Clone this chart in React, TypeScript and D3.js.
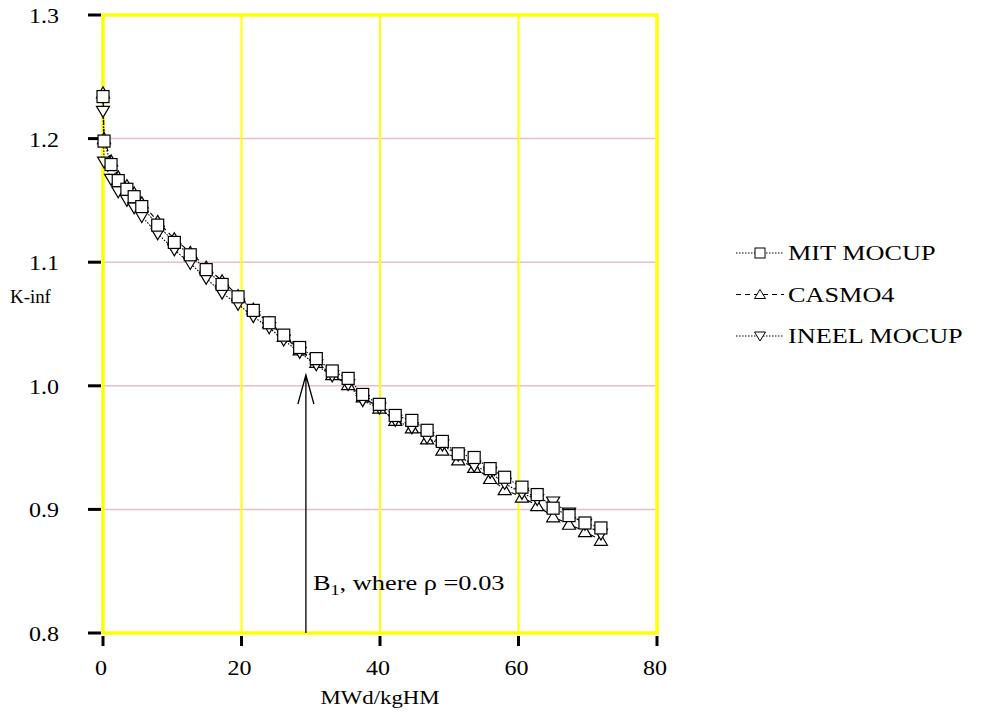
import { useEffect, useRef } from 'react';
import * as d3 from 'd3';

// burnup steps (MWd/kgHM)
const burnup = [0, 0.15, 1.16, 2.2, 3.45, 4.5, 5.6, 7.9, 10.3, 12.6, 14.9, 17.2, 19.5, 21.7, 24.0, 26.1, 28.4, 30.8, 33.1, 35.4, 37.5, 39.9, 42.2, 44.6, 46.8, 49.0, 51.3, 53.6, 55.9, 58.0, 60.5, 62.7, 65.0, 67.3, 69.6, 71.9];

const mitMocup = [1.234, 1.198, 1.179, 1.166, 1.159, 1.153, 1.145, 1.130, 1.116, 1.106, 1.094, 1.082, 1.072, 1.061, 1.051, 1.041, 1.031, 1.022, 1.012, 1.006, 0.993, 0.985, 0.976, 0.972, 0.964, 0.955, 0.945, 0.942, 0.933, 0.926, 0.918, 0.912, 0.901, 0.895, 0.889, 0.885];

const casmo4 = [1.237, 1.200, 1.182, 1.169, 1.162, 1.156, 1.148, 1.133, 1.119, 1.108, 1.096, 1.085, 1.073, 1.062, 1.051, 1.040, 1.029, 1.019, 1.009, 1.001, 0.991, 0.982, 0.972, 0.966, 0.957, 0.948, 0.940, 0.934, 0.925, 0.916, 0.910, 0.903, 0.894, 0.888, 0.882, 0.875];

const ineelMocup = [1.222, 1.181, 1.167, 1.157, 1.150, 1.144, 1.137, 1.123, 1.110, 1.099, 1.087, 1.075, 1.066, 1.056, 1.047, 1.037, 1.027, 1.017, 1.008, 1.001, 0.988, 0.982, 0.972, 0.966, 0.958, 0.952, 0.944, 0.935, 0.930, 0.921, 0.913, 0.908, 0.906, 0.897, 0.888, 0.880];

const xTicks = [0, 20, 40, 60, 80];
const yTicks = [0.8, 0.9, 1.0, 1.1, 1.2, 1.3];

const markerB1 = 29.3;

const App = () => {
  const svgRef = useRef<SVGSVGElement>(null);

  useEffect(() => {
    const svg = d3.select(svgRef.current);
    svg.selectAll('*').remove();

    const font = '"Liberation Serif", "Times New Roman", serif';
    const left = 103, right = 657, top = 15, bottom = 633;
    const stretch = 1.2; // the original text is a bit wide

    const x = d3.scaleLinear().domain([0, 80]).range([left, right]);
    const y = d3.scaleLinear().domain([0.8, 1.3]).range([bottom, top]);

    const label = (px: number, py: number, size: number, anchor: string, sx = stretch) =>
      svg.append('text')
        .attr('transform', `translate(${px},${py}) scale(${sx},1)`)
        .attr('dy', '0.35em')
        .attr('text-anchor', anchor)
        .attr('font-family', font)
        .attr('font-size', size);

    // horizontal grid (pink)
    svg.append('g')
      .selectAll('line')
      .data(yTicks.slice(1, -1))
      .join('line')
      .attr('x1', left).attr('x2', right)
      .attr('y1', d => y(d)).attr('y2', d => y(d))
      .attr('stroke', '#e2bfd2')
      .attr('stroke-width', 1.5);

    // vertical grid (yellow)
    svg.append('g')
      .selectAll('line')
      .data(xTicks.slice(1, -1))
      .join('line')
      .attr('x1', d => x(d)).attr('x2', d => x(d))
      .attr('y1', top).attr('y2', bottom)
      .attr('stroke', '#ffff00')
      .attr('stroke-width', 2);

    // frame
    svg.append('rect')
      .attr('x', left).attr('y', top)
      .attr('width', right - left).attr('height', bottom - top)
      .attr('fill', 'none')
      .attr('stroke', '#ffff00')
      .attr('stroke-width', 3.5);

    // y ticks + labels
    svg.append('g')
      .selectAll('line')
      .data(yTicks)
      .join('line')
      .attr('x1', 88).attr('x2', left - 2)
      .attr('y1', d => y(d)).attr('y2', d => y(d))
      .attr('stroke', '#000')
      .attr('stroke-width', 3);
    yTicks.forEach(t => {
      label(59, y(t) + 1, 20, 'end').text(d3.format('.1f')(t));
    });

    // x ticks + labels
    svg.append('g')
      .selectAll('line')
      .data(xTicks)
      .join('line')
      .attr('x1', d => x(d)).attr('x2', d => x(d))
      .attr('y1', bottom + 3).attr('y2', bottom + 13)
      .attr('stroke', '#000')
      .attr('stroke-width', 3);
    xTicks.forEach(t => {
      label(x(t) - 2, 668, 20, 'middle').text(t);
    });

    label(380, 697, 19, 'middle').text('MWd/kgHM');
    label(10, 297, 18, 'start', 1.05).text('K-inf');

    // annotation arrow
    const ax = x(markerB1);
    const tipY = 375;
    svg.append('path')
      .attr('d', `M${ax},${bottom} L${ax},${tipY} M${ax - 8},${tipY + 29} L${ax},${tipY} L${ax + 8},${tipY + 29}`)
      .attr('fill', 'none')
      .attr('stroke', '#000')
      .attr('stroke-width', 1.3);

    const ann = svg.append('text')
      .attr('transform', `translate(${ax + 7},590) scale(${stretch},1)`)
      .attr('font-family', font).attr('font-size', 22);
    ann.append('tspan').text('B');
    ann.append('tspan').attr('dy', 5).attr('font-size', 15).text('1');
    ann.append('tspan').attr('dy', -5).text(', where \u03c1 =0.03');

    // markers
    const sq = 12;
    const tri = (up: boolean, cx: number, cy: number) => {
      const h = 10, w = 13;
      return up
        ? `M${cx},${cy - h / 2 - 1} L${cx + w / 2},${cy + h / 2} L${cx - w / 2},${cy + h / 2} Z`
        : `M${cx},${cy + h / 2 + 1} L${cx + w / 2},${cy - h / 2} L${cx - w / 2},${cy - h / 2} Z`;
    };

    const series = [
      { name: 'CASMO4', values: casmo4, dash: '5,4', marker: 'up' },
      { name: 'INEEL MOCUP', values: ineelMocup, dash: '1.5,1.5', marker: 'down' },
      { name: 'MIT MOCUP', values: mitMocup, dash: '1.5,1.5', marker: 'square' },
    ];

    const line = d3.line<number>()
      .x((d, i) => x(burnup[i]))
      .y(d => y(d));

    series.forEach(s => {
      svg.append('path')
        .datum(s.values)
        .attr('fill', 'none')
        .attr('stroke', '#000')
        .attr('stroke-width', 1.1)
        .attr('stroke-dasharray', s.dash)
        .attr('d', line);
    });

    series.forEach(s => {
      const g = svg.append('g');
      if (s.marker === 'square') {
        g.selectAll('rect')
          .data(s.values)
          .join('rect')
          .attr('x', (d, i) => x(burnup[i]) - sq / 2)
          .attr('y', d => y(d) - sq / 2)
          .attr('width', sq).attr('height', sq)
          .attr('fill', '#fff')
          .attr('stroke', '#000')
          .attr('stroke-width', 1.2);
      } else {
        g.selectAll('path')
          .data(s.values)
          .join('path')
          .attr('d', (d, i) => tri(s.marker === 'up', x(burnup[i]), y(d)))
          .attr('fill', '#fff')
          .attr('stroke', '#000')
          .attr('stroke-width', 1.2);
      }
    });

    // legend
    const legend = [
      { name: 'MIT MOCUP', dash: '1.5,1.5', marker: 'square' },
      { name: 'CASMO4', dash: '5,4', marker: 'up' },
      { name: 'INEEL MOCUP', dash: '1.5,1.5', marker: 'down' },
    ];
    const lx0 = 736, lx1 = 784, mx = 760;
    legend.forEach((l, i) => {
      const ly = 253 + i * 41.5;
      const g = svg.append('g');
      g.append('line')
        .attr('x1', lx0).attr('x2', lx1)
        .attr('y1', ly).attr('y2', ly)
        .attr('stroke', '#000').attr('stroke-width', 1)
        .attr('stroke-dasharray', l.dash);
      if (l.marker === 'square') {
        g.append('rect')
          .attr('x', mx - 5).attr('y', ly - 5)
          .attr('width', 10).attr('height', 10)
          .attr('fill', '#fff').attr('stroke', '#000').attr('stroke-width', 1);
      } else {
        const up = l.marker === 'up';
        g.append('path')
          .attr('d', up
            ? `M${mx},${ly - 5} L${mx + 5.5},${ly + 4} L${mx - 5.5},${ly + 4} Z`
            : `M${mx},${ly + 5} L${mx + 5.5},${ly - 4} L${mx - 5.5},${ly - 4} Z`)
          .attr('fill', '#fff').attr('stroke', '#000').attr('stroke-width', 1);
      }
      label(788, ly, 21, 'start', 1.25).text(l.name);
    });
  }, []);

  return (
    <div style={{ position: 'absolute', left: 0, top: 0 }}>
      <svg ref={svgRef} width={992} height={717} style={{ display: 'block', background: '#fff' }}></svg>
    </div>
  );
};

export default App;
